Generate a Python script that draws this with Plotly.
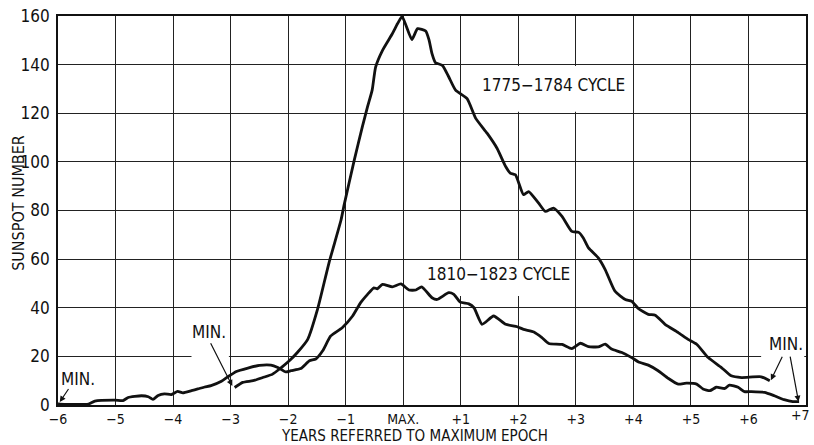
import plotly.graph_objects as go

# 1775-1784 cycle: years from maximum epoch, smoothed sunspot number
years_1775 = [-2.93, -2.79, -2.61, -2.44, -2.27, -2.12, -1.98, -1.84, -1.66, -1.49,
              -1.29, -1.08, -1.03, -0.85, -0.71, -0.62, -0.54, -0.48, -0.36, -0.19,
              -0.10, -0.02, 0.15, 0.25, 0.39, 0.45, 0.50, 0.56, 0.68, 0.79,
              0.91, 1.11, 1.26, 1.46, 1.63, 1.78, 1.86, 1.95, 2.09, 2.18,
              2.35, 2.47, 2.61, 2.76, 2.93, 3.05, 3.13, 3.22, 3.39, 3.51,
              3.68, 3.86, 3.97, 4.09, 4.26, 4.38, 4.55, 4.78, 4.95, 5.10,
              5.30, 5.53, 5.70, 5.88, 6.22, 6.37]
ssn_1775 = [7.2, 9.3, 10.0, 11.3, 12.7, 15.4, 18.2, 21.6, 27.0, 39.3,
            58.5, 76.2, 82.0, 100.8, 114.5, 122.7, 129.5, 139.0, 145.9, 152.7,
            156.8, 159.8, 150.3, 154.8, 153.8, 150.0, 144.5, 140.8, 139.7, 135.0,
            129.5, 126.0, 117.9, 111.7, 105.6, 98.1, 95.4, 94.7, 86.5, 87.8,
            83.1, 79.6, 81.0, 77.6, 71.4, 71.0, 68.7, 64.6, 60.5, 55.7,
            46.8, 43.4, 42.7, 39.6, 37.3, 36.9, 33.2, 29.8, 27.0, 25.0,
            19.5, 15.4, 12.0, 11.3, 11.6, 10.0]

# 1810-1823 cycle
years_1810 = [-6.00, -5.97, -5.47, -5.36, -5.01, -4.87, -4.78, -4.55, -4.43, -4.35,
              -4.26, -4.15, -4.03, -3.92, -3.83, -3.68, -3.57, -3.45, -3.34, -3.16,
              -3.05, -2.90, -2.70, -2.50, -2.30, -2.18, -2.04, -1.95, -1.78, -1.63,
              -1.52, -1.40, -1.26, -1.06, -0.88, -0.74, -0.62, -0.51, -0.45, -0.36,
              -0.19, -0.04, 0.10, 0.22, 0.32, 0.50, 0.59, 0.79, 0.88, 0.99,
              1.14, 1.23, 1.37, 1.57, 1.78, 1.98, 2.09, 2.27, 2.41, 2.53,
              2.76, 2.93, 3.08, 3.22, 3.39, 3.51, 3.62, 3.80, 3.97, 4.09,
              4.26, 4.43, 4.61, 4.78, 4.92, 5.10, 5.21, 5.33, 5.44, 5.59,
              5.67, 5.82, 5.93, 6.05, 6.28, 6.45, 6.62, 6.77, 6.88]
ssn_1810 = [0.6, 0.4, 0.4, 1.6, 2.0, 1.8, 3.1, 3.8, 3.4, 2.3,
            3.9, 4.6, 4.3, 5.6, 5.0, 5.9, 6.6, 7.4, 8.0, 9.8,
            11.6, 13.8, 15.2, 16.3, 16.4, 15.4, 13.6, 14.1, 15.0, 18.2,
            18.9, 22.3, 28.4, 31.8, 36.6, 42.1, 45.5, 48.2, 47.8, 49.6,
            48.6, 49.8, 47.3, 47.3, 48.6, 44.1, 43.4, 46.2, 45.5, 42.3,
            41.6, 40.0, 33.2, 36.6, 33.2, 32.2, 31.1, 30.0, 27.7, 25.3,
            24.9, 23.2, 25.4, 24.0, 23.9, 25.0, 23.0, 21.6, 19.5, 17.7,
            16.4, 14.1, 10.9, 8.6, 9.0, 8.6, 6.6, 5.9, 7.3, 6.8,
            8.2, 7.3, 5.5, 5.5, 5.2, 3.8, 2.2, 1.4, 1.4]

x_tick_vals = list(range(-6, 8))
x_tick_text = ["−6", "−5", "−4", "−3", "−2", "−1", "MAX.",
               "+1", "+2", "+3", "+4", "+5", "+6", "+7"]
y_tick_vals = [0, 20, 40, 60, 80, 100, 120, 140, 160]

FONT = "DejaVu Sans Condensed, Liberation Sans Narrow, Arial Narrow, sans-serif"
INK = "#111111"

fig = go.Figure()
for xs, ys in ((years_1775, ssn_1775), (years_1810, ssn_1810)):
    fig.add_trace(go.Scatter(
        x=xs, y=ys, mode="lines",
        line=dict(color=INK, width=2.8, shape="spline", smoothing=0.5),
        showlegend=False, hoverinfo="x+y",
    ))

# white panels that interrupt the grid behind the labels
blank = dict(type="rect", xref="x", yref="y", layer="between",
             fillcolor="white", line=dict(width=0))
shapes = [
    dict(blank, x0=1.25, x1=3.95, y0=120.6, y1=139.4),
    dict(blank, x0=0.40, x1=2.90, y0=44.8, y1=59.5),
    dict(blank, x0=-3.68, x1=-3.03, y0=19.0, y1=21.0),
    dict(blank, x0=6.22, x1=6.97, y0=19.0, y1=21.0),
]

label_font = dict(family=FONT, size=17, color=INK)
x_tick_font = dict(family=FONT, size=14, color=INK)
y_tick_font = dict(family=FONT, size=17, color=INK)
annotations = [
    dict(x=2.62, y=131.5, text="1775−1784 CYCLE", showarrow=False, font=label_font),
    dict(x=1.65, y=53.7, text="1810−1823 CYCLE", showarrow=False, font=label_font),
    dict(x=-5.65, y=10.8, text="MIN.", showarrow=False, font=label_font),
    dict(x=-3.38, y=30.0, text="MIN.", showarrow=False, font=label_font),
    dict(x=6.65, y=25.0, text="MIN.", showarrow=False, font=label_font),
]
arrow = dict(xref="x", yref="y", axref="x", ayref="y", text="", showarrow=True,
             arrowhead=2, arrowsize=1.0, arrowwidth=1.2, arrowcolor=INK)
annotations += [
    dict(arrow, x=-5.97, y=1.2, ax=-5.80, ay=7.2),
    dict(arrow, x=-2.97, y=7.8, ax=-3.36, ay=26.0),
    dict(arrow, x=6.39, y=10.2, ax=6.60, ay=20.5),
    dict(arrow, x=6.87, y=1.4, ax=6.72, ay=20.5),
    # last x tick label sits against the right edge of the page
    dict(x=7, y=0, xref="x", yref="y", yshift=-10, xshift=6, text="+7", showarrow=False,
         font=x_tick_font, xanchor="right", yanchor="middle"),
    dict(x=0.476, y=0, xref="paper", yref="paper", yshift=-41, showarrow=False,
         text="YEARS REFERRED TO MAXIMUM EPOCH", font=dict(family=FONT, size=15, color=INK),
         xanchor="center", yanchor="bottom", borderpad=0),
    dict(x=-0.052, y=0.52, xref="paper", yref="paper", showarrow=False, textangle=-90,
         text="SUNSPOT NUMBER", font=dict(family=FONT, size=16, color=INK),
         xanchor="center", yanchor="middle"),
]

fig.update_layout(
    width=814, height=445,
    margin=dict(l=58, r=6, t=15, b=40),
    paper_bgcolor="white", plot_bgcolor="white",
    font=dict(family=FONT, size=15, color=INK),
    shapes=shapes, annotations=annotations,
)
fig.update_xaxes(
    range=[-6, 7], tickmode="array", tickvals=x_tick_vals[:-1], ticktext=x_tick_text[:-1],
    showgrid=True, gridcolor="#222222", gridwidth=1.3,
    showline=True, linecolor=INK, linewidth=1.6, mirror=True,
    ticks="", ticklabelstandoff=0, zeroline=False,
    tickfont=x_tick_font,
)
fig.update_yaxes(
    range=[0, 160], tickmode="array", tickvals=y_tick_vals,
    showgrid=True, gridcolor="#222222", gridwidth=1.3,
    showline=True, linecolor=INK, linewidth=1.6, mirror=True,
    ticks="", ticklabelstandoff=3, zeroline=False,
    tickfont=y_tick_font,
)

fig.write_html("out.html")
